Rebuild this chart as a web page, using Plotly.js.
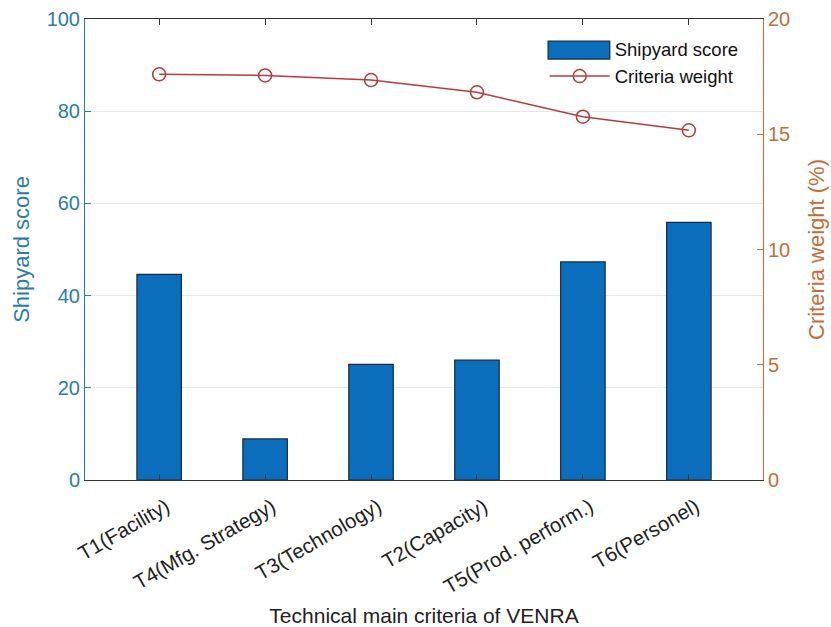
<!DOCTYPE html>
<html>
<head>
<meta charset="utf-8">
<script src="https://cdn.plot.ly/plotly-3.0.1.min.js"></script>
<style>html,body{margin:0;padding:0;background:#fff;}#chart{width:831px;height:627px;}</style>
</head>
<body>
<div id="chart"></div>
<script>
const categories = ["T1(Facility)", "T4(Mfg. Strategy)", "T3(Technology)", "T2(Capacity)", "T5(Prod. perform.)", "T6(Personel)"];
const shipyardScore = [44.6, 8.9, 25.1, 26.0, 47.3, 55.9];
const criteriaWeight = [17.6, 17.55, 17.35, 16.82, 15.76, 15.17];
const leftTicks = [0, 20, 40, 60, 80, 100];
const rightTicks = [0, 5, 10, 15, 20];

const leftColor = "#2b7bad";
const rightColor = "#c56d38";
const barColor = "#0a6ebd";
const barEdge = "#1a2a44";
const lineColor = "#b83b3b";
const fontFamily = "Liberation Sans, Arial, sans-serif";

const traces = [
  {
    type: "bar",
    name: "Shipyard score",
    x: categories,
    y: shipyardScore,
    width: 0.42,
    marker: {color: barColor, line: {color: barEdge, width: 1.2}},
    yaxis: "y",
    showlegend: false
  },
  {
    // legend entry for the bars (swatch drawn as a wide rectangle below, like the reference)
    type: "scatter",
    mode: "markers",
    name: "Shipyard score",
    x: [null],
    y: [null],
    marker: {color: "rgba(0,0,0,0)", size: 1},
    yaxis: "y",
    hoverinfo: "skip"
  },
  {
    type: "scatter",
    mode: "lines+markers",
    name: "Criteria weight",
    x: categories,
    y: criteriaWeight,
    line: {color: lineColor, width: 1.5},
    marker: {symbol: "circle-open", size: 13, color: lineColor, line: {width: 1.5}},
    yaxis: "y2"
  }
];

const layout = {
  width: 831,
  height: 627,
  margin: {l: 85, r: 68, t: 19, b: 147},
  paper_bgcolor: "#fff",
  plot_bgcolor: "#fff",
  font: {family: fontFamily, size: 19, color: "#222"},
  showlegend: true,
  legend: {
    x: 0.678, y: 0.975, xanchor: "left", yanchor: "top",
    bgcolor: "rgba(255,255,255,0)", borderwidth: 0,
    itemwidth: 60,
    font: {family: fontFamily, size: 18.5, color: "#111"},
    tracegroupgap: 2
  },
  shapes: [
    {type: "rect", xref: "paper", yref: "paper", x0: 0.683, x1: 0.774, y0: 0.913, y1: 0.952,
     fillcolor: barColor, line: {color: barEdge, width: 1.2}, layer: "above"}
  ],
  xaxis: {
    type: "category",
    range: [-0.7, 5.7],
    tickangle: -30,
    ticks: "inside",
    ticklen: 6,
    tickcolor: "#333",
    showline: true,
    linecolor: "#333",
    linewidth: 1,
    mirror: "ticks",
    showgrid: false,
    ticklabelstandoff: 6,
    ticklabelshift: 7,
    tickfont: {family: fontFamily, size: 20.5, color: "#222"},
    title: {text: "Technical main criteria of VENRA", font: {family: fontFamily, size: 21, color: "#222"}, standoff: 12}
  },
  yaxis: {
    range: [0, 100],
    tickvals: leftTicks,
    ticks: "inside",
    ticklen: 6,
    tickcolor: leftColor,
    showline: true,
    linecolor: leftColor,
    linewidth: 1,
    showgrid: true,
    gridcolor: "#e3e8ec",
    gridwidth: 1,
    zeroline: false,
    tickfont: {family: fontFamily, size: 20, color: leftColor},
    title: {text: "Shipyard score", font: {family: fontFamily, size: 22, color: leftColor}, standoff: 10}
  },
  yaxis2: {
    range: [0, 20],
    tickvals: rightTicks,
    overlaying: "y",
    side: "right",
    ticks: "inside",
    ticklen: 6,
    tickcolor: rightColor,
    showline: true,
    linecolor: rightColor,
    linewidth: 1,
    showgrid: false,
    zeroline: false,
    tickfont: {family: fontFamily, size: 20, color: rightColor},
    title: {text: "Criteria weight (%)", font: {family: fontFamily, size: 22, color: rightColor}, standoff: 19}
  }
};

Plotly.newPlot("chart", traces, layout, {displayModeBar: false, staticPlot: true});
</script>
</body>
</html>
